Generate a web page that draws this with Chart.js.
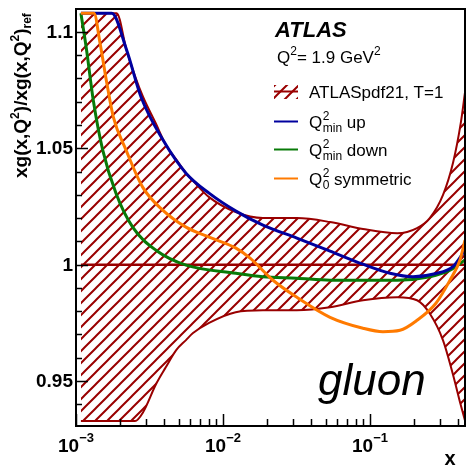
<!DOCTYPE html>
<html>
<head>
    <title>ATLAS gluon ratio</title>
    <script src="https://cdn.jsdelivr.net/npm/chart.js"></script>
    <style>
        body { margin: 0; background: #fff; }
    </style>
</head>
<body>
    <canvas id="gluonRatio" width="466" height="473"></canvas>

    <script>
    // band: ATLASpdf21, T=1 (upper / lower edge)
    const bandX  = [1.08e-3, 1.5e-3, 1.89e-3, 2.21e-3, 2.52e-3, 2.86e-3, 3.5e-3, 4.09e-3, 4.79e-3, 5.6e-3, 6.25e-3, 8.04e-3, 0.0122, 0.0187, 0.0318, 0.0535, 0.0896, 0.153, 0.209, 0.255, 0.314, 0.368, 0.415, 0.443];
    const bandHi = [1.108, 1.108, 1.108, 1.092, 1.081, 1.072, 1.0605, 1.0514, 1.0453, 1.0393, 1.036, 1.029, 1.0226, 1.020, 1.020, 1.0183, 1.0153, 1.0135, 1.0157, 1.020, 1.030, 1.044, 1.061, 1.074];
    const bandLo = [0.9328, 0.9328, 0.9328, 0.9328, 0.9328, 0.9366, 0.9486, 0.956, 0.9632, 0.9676, 0.9706, 0.975, 0.9796, 0.9804, 0.9804, 0.9817, 0.9847, 0.986, 0.9847, 0.979, 0.9675, 0.9525, 0.9396, 0.9331];

    const centerX = [1.08e-3, 0.443];
    const centerY = [1, 1];

    // Q2min up
    const upX = [1.08e-3, 1.4e-3, 1.75e-3, 2.21e-3, 2.77e-3, 3.91e-3, 5.6e-3, 8.04e-3, 0.01225, 0.0187, 0.0318, 0.0535, 0.0896, 0.137, 0.196, 0.277, 0.367, 0.443];
    const upY = [1.108, 1.108, 1.108, 1.0922, 1.072, 1.0535, 1.0393, 1.0307, 1.023, 1.017, 1.0114, 1.0058, 1.0002, 0.9963, 0.9948, 0.9961, 0.9991, 1.0062];

    // Q2min down
    const downX = [1.08e-3, 1.18e-3, 1.31e-3, 1.52e-3, 1.87e-3, 2.43e-3, 3.5e-3, 5.6e-3, 0.01225, 0.0187, 0.0318, 0.0535, 0.0896, 0.153, 0.255, 0.35, 0.443];
    const downY = [1.108, 1.0922, 1.0707, 1.0492, 1.0307, 1.0161, 1.0062, 0.9998, 0.9963, 0.9948, 0.9942, 0.9933, 0.9933, 0.9933, 0.9948, 0.9976, 1.002];

    // Q0^2 symmetric
    const symX = [1.08e-3, 1.325e-3, 1.457e-3, 1.62e-3, 1.795e-3, 2.19e-3, 2.84e-3, 3.89e-3, 5.6e-3, 8.04e-3, 0.01225, 0.01528, 0.0219, 0.0318, 0.0535, 0.0896, 0.1225, 0.16, 0.209, 0.281, 0.35, 0.409, 0.443];
    const symY = [1.108, 1.108, 1.0952, 1.078, 1.0634, 1.0492, 1.0333, 1.0234, 1.0161, 1.0118, 1.0071, 1.0028, 0.9933, 0.986, 0.9774, 0.9727, 0.9712, 0.9718, 0.9761, 0.9834, 0.9933, 1.0019, 1.0105];

    const yTicks = [0.95, 1, 1.05, 1.1];
    const yTickLabels = ['0.95', '1', '1.05', '1.1'];
    const xTicks = [1e-3, 1e-2, 1e-1];
    const xTickExp = ['\u22123', '\u22122', '\u22121'];

    const RED = '#990000';
    const BLUE = '#00009e';
    const GREEN = '#087a08';
    const ORANGE = '#ff7a00';
    const FONT = '"Liberation Sans", Arial, Helvetica, sans-serif';

    function points(xs, ys) {
        return xs.map((x, i) => ({x: x, y: ys[i]}));
    }

    function hatch(color) {
        let tile = document.createElement('canvas');
        tile.width = 12;
        tile.height = 12;
        let g = tile.getContext('2d');
        g.strokeStyle = color;
        g.lineWidth = 2;
        g.beginPath();
        g.moveTo(-3, 15); g.lineTo(15, -3);
        g.moveTo(-3, 3); g.lineTo(3, -3);
        g.moveTo(9, 15); g.lineTo(15, 9);
        g.stroke();
        return g.createPattern(tile, 'repeat');
    }
    const hatchFill = hatch(RED);

    // draws text pieces: [text, sizePx, dy, style]
    function drawRich(ctx, x, y, parts) {
        for (let p of parts) {
            ctx.font = (p[3] || '') + ' ' + p[1] + 'px ' + FONT;
            ctx.fillText(p[0], x, y + p[2]);
            x += ctx.measureText(p[0]).width;
        }
        return x;
    }

    function drawQ(ctx, x, y, sub, rest) {
        ctx.font = '17px ' + FONT;
        ctx.fillText('Q', x, y);
        x += ctx.measureText('Q').width + 0.5;
        ctx.font = '12px ' + FONT;
        ctx.fillText('2', x, y - 8);
        let w = ctx.measureText('2').width;
        ctx.fillText(sub, x, y + 4);
        w = Math.max(w, ctx.measureText(sub).width);
        ctx.font = '17px ' + FONT;
        ctx.fillText(rest, x + w, y);
    }

    const decor = {
        id: 'decor',
        afterDraw(chart) {
            const ctx = chart.ctx, a = chart.chartArea;
            const xs = chart.scales.x, ys = chart.scales.y;
            ctx.save();

            // frame
            ctx.strokeStyle = '#000';
            ctx.lineWidth = 2;
            ctx.strokeRect(a.left, a.top, a.right - a.left, a.bottom - a.top);

            // y ticks, pointing inward
            ctx.lineWidth = 1.5;
            ctx.beginPath();
            for (let k = 94; k <= 110; k++) {
                let py = Math.round(ys.getPixelForValue(k / 100)) + 0.5;
                let len = (k % 5 === 0) ? 12 : 6;
                ctx.moveTo(a.left, py);
                ctx.lineTo(a.left + len, py);
            }
            // x ticks, pointing inward
            for (let d = -3; d <= -1; d++) {
                for (let m = 1; m <= 9; m++) {
                    let v = m * Math.pow(10, d);
                    if (v > xs.max) break;
                    let px = Math.round(xs.getPixelForValue(v)) + 0.5;
                    let len = (m === 1) ? 12 : 7;
                    ctx.moveTo(px, a.bottom);
                    ctx.lineTo(px, a.bottom - len);
                }
            }
            ctx.stroke();

            // y tick labels
            ctx.fillStyle = '#000';
            ctx.font = 'bold 19px ' + FONT;
            ctx.textAlign = 'right';
            ctx.textBaseline = 'middle';
            yTicks.forEach((v, i) => {
                ctx.fillText(yTickLabels[i], a.left - 3, ys.getPixelForValue(v) + 1);
            });

            // x tick labels 10^n
            ctx.textAlign = 'left';
            ctx.textBaseline = 'alphabetic';
            xTicks.forEach((v, i) => {
                ctx.font = 'bold 19px ' + FONT;
                let w1 = ctx.measureText('10').width;
                ctx.font = 'bold 13px ' + FONT;
                let w2 = ctx.measureText(xTickExp[i]).width;
                let x0 = xs.getPixelForValue(v) - (w1 + w2) / 2;
                drawRich(ctx, x0, 452, [['10', 19, 0, 'bold'], [xTickExp[i], 13, -10, 'bold']]);
            });

            // axis titles
            ctx.font = 'bold 20px ' + FONT;
            ctx.textAlign = 'center';
            ctx.fillText('x', 450, 465);
            ctx.textAlign = 'left';
            ctx.save();
            ctx.translate(27, 178);
            ctx.rotate(-Math.PI / 2);
            drawRich(ctx, 0, 0, [
                ['xg(x,Q', 19, 0, 'bold'], ['2', 12, -8, 'bold'], [')/xg(x,Q', 19, 0, 'bold'],
                ['2', 12, -8, 'bold'], [')', 19, 0, 'bold'], ['ref', 12, 4, 'bold']
            ]);
            ctx.restore();

            // ATLAS label and Q2
            drawRich(ctx, 275, 37, [['ATLAS', 22, 0, 'italic bold']]);
            drawRich(ctx, 277, 63, [['Q', 17, 0], ['2', 12, -8], ['= 1.9 GeV', 17, 0], ['2', 12, -8]]);

            // legend
            let lx0 = 274, lx1 = 298, tx = 309;
            ctx.fillStyle = hatchFill;
            ctx.fillRect(lx0, 85, lx1 - lx0, 14);
            ctx.strokeStyle = RED;
            ctx.lineWidth = 2;
            ctx.beginPath(); ctx.moveTo(lx0, 91.5); ctx.lineTo(lx1, 91.5); ctx.stroke();
            ctx.fillStyle = '#000';
            drawRich(ctx, tx, 98, [['ATLASpdf21, T=1', 17, 0]]);

            [[BLUE, 121.5, 'min', ' up'], [GREEN, 149.5, 'min', ' down'], [ORANGE, 178.5, '0', ' symmetric']].forEach(r => {
                ctx.strokeStyle = r[0];
                ctx.beginPath(); ctx.moveTo(lx0, r[1]); ctx.lineTo(lx1, r[1]); ctx.stroke();
                drawQ(ctx, tx, r[1] + 6.5, r[2], r[3]);
            });

            // gluon
            ctx.font = 'italic 44px ' + FONT;
            ctx.fillText('gluon', 318, 395);

            ctx.restore();
        }
    };

    function line(data, color, width) {
        return {
            data: data,
            borderColor: color,
            borderWidth: width,
            pointRadius: 0,
            fill: false,
            cubicInterpolationMode: 'monotone'
        };
    }

    let bandLow = line(points(bandX, bandLo), RED, 2);
    bandLow.fill = {target: 5};
    bandLow.backgroundColor = hatchFill;

    new Chart(document.getElementById('gluonRatio'), {
        type: 'line',
        data: {
            datasets: [
                line(points(symX, symY), ORANGE, 3),
                line(points(upX, upY), BLUE, 3),
                line(points(downX, downY), GREEN, 3),
                line(points(centerX, centerY), RED, 2.5),
                bandLow,
                line(points(bandX, bandHi), RED, 2)
            ]
        },
        options: {
            responsive: false,
            animation: false,
            devicePixelRatio: 1,
            layout: { padding: { left: 76, top: 9, right: 1, bottom: 47 } },
            plugins: { legend: { display: false }, tooltip: { enabled: false } },
            scales: {
                x: { type: 'logarithmic', min: 1e-3, max: 0.443, display: false },
                y: { type: 'linear', min: 0.9307, max: 1.1098, display: false }
            }
        },
        plugins: [decor]
    });
    </script>
</body>
</html>
